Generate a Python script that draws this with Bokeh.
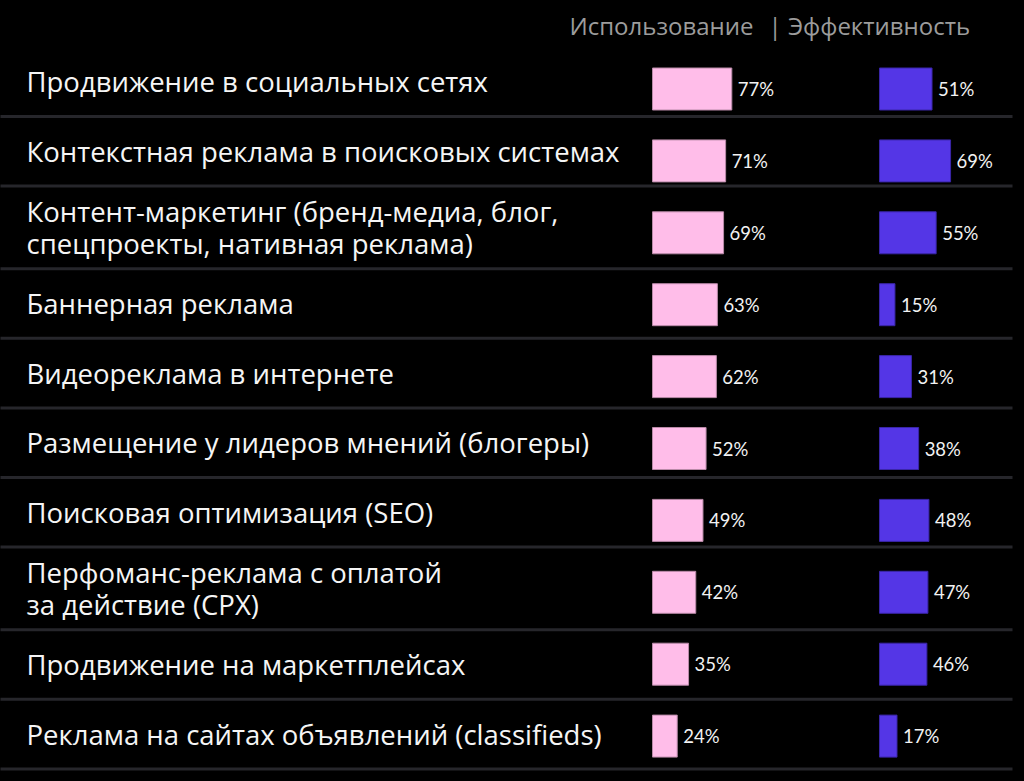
from bokeh.plotting import figure
from bokeh.models import Range1d
from bokeh.core.properties import value
from bokeh.embed import file_html
from bokeh.resources import INLINE

# ---------------- data ----------------
categories = [
    "Продвижение в социальных сетях",
    "Контекстная реклама в поисковых системах",
    "Контент-маркетинг (бренд-медиа, блог,\nспецпроекты, нативная реклама)",
    "Баннерная реклама",
    "Видеореклама в интернете",
    "Размещение у лидеров мнений (блогеры)",
    "Поисковая оптимизация (SEO)",
    "Перфоманс-реклама с оплатой\nза действие (CPX)",
    "Продвижение на маркетплейсах",
    "Реклама на сайтах объявлений (classifieds)",
]
usage = [77, 71, 69, 63, 62, 52, 49, 42, 35, 24]
effect = [51, 69, 55, 15, 31, 38, 48, 47, 46, 17]
series_names = ["Использование", "| Эффективность"]

# ---------------- layout ----------------
W, H = 1014, 772
PX_PER_PCT = 1.03
USE_ZERO = 652            # pixel of 0% for usage bars
EFF_ZERO = 879            # pixel of 0% for effectiveness bars
ROW0 = 88.5               # pixel centre of first bar row
ROW_STEP = 71.9
BAR_H = 42

PINK = "#ffbde9"
BLUE = "#5436e6"
SEP = "#26262b"

p = figure(width=W, height=H,
           x_range=Range1d(0, W), y_range=Range1d(H, 0),
           output_backend="svg", toolbar_location=None,
           x_axis_type=None, y_axis_type=None, min_border=0,
           background_fill_color="black", border_fill_color="black",
           outline_line_color=None)
p.grid.visible = False

p.extra_x_ranges = {
    "use": Range1d(-USE_ZERO / PX_PER_PCT, (W - USE_ZERO) / PX_PER_PCT),
    "eff": Range1d(-EFF_ZERO / PX_PER_PCT, (W - EFF_ZERO) / PX_PER_PCT),
}
p.extra_y_ranges = {
    "rows": Range1d((H - ROW0) / ROW_STEP, -ROW0 / ROW_STEP),
}

idx = list(range(len(categories)))
bar_h = BAR_H / ROW_STEP

# separators and label rows (two-line rows are taller)
top = 46.4
single, extra = 69.6, 13.0
label_y, sep_y = [], []
y = top
for c in categories:
    n = c.count("\n") + 1
    h = single + extra * (n - 1)
    label_y.append(y + h / 2)
    y += h
    sep_y.append(y)

p.segment(x0=[-2] * len(sep_y), x1=[1012] * len(sep_y), y0=sep_y, y1=sep_y,
          line_color=SEP, line_width=3)

p.text(x=[26] * len(categories), y=label_y, text=categories,
       text_font=value("Open Sans"), text_font_size="27.5px",
       text_color="#f5f5f5", text_baseline="middle", text_align="left",
       text_line_height=0.88)

# header
p.text(x=[569, 768], y=[25, 25], text=series_names,
       text_font=value("Open Sans"), text_font_size="24px",
       text_color="#9c9c9c", text_baseline="middle", text_align="left")

# bars
p.hbar(y=idx, left=0, right=usage, height=bar_h, fill_color=PINK,
       line_color="#b98aa8", line_width=1,
       x_range_name="use", y_range_name="rows")
p.hbar(y=idx, left=0, right=effect, height=bar_h, fill_color=BLUE,
       line_color="#3a26a8", line_width=1,
       x_range_name="eff", y_range_name="rows")

p.text(x=usage, y=idx, text=[f"{v}%" for v in usage], x_offset=6,
       text_font=value("Lato"), text_font_size="18.5px", text_color="#f2f2f2",
       text_baseline="middle", text_align="left",
       x_range_name="use", y_range_name="rows")
p.text(x=effect, y=idx, text=[f"{v}%" for v in effect], x_offset=6,
       text_font=value("Lato"), text_font_size="18.5px", text_color="#f2f2f2",
       text_baseline="middle", text_align="left",
       x_range_name="eff", y_range_name="rows")

html = file_html(p, INLINE)
html = html.replace("<head>", "<head><style>html,body{background:#000000;}</style>", 1)
open("out.html", "w").write(html)
